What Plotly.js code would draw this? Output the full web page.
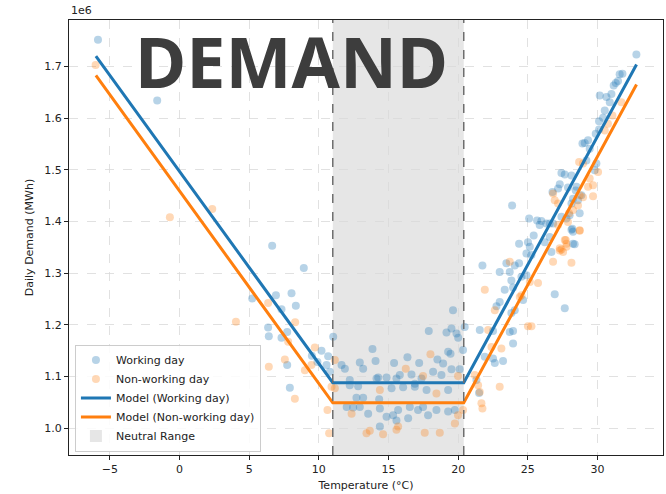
<!DOCTYPE html>
<html>
<head>
<meta charset="utf-8">
<script src="https://cdn.plot.ly/plotly-3.0.1.min.js"></script>
<style>html,body{margin:0;padding:0;background:#fff;}#chart{width:666px;height:494px;}</style>
</head>
<body>
<div id="chart"></div>
<script>
// Working day observations: temperature (°C) and daily demand (MWh)
const tempWork = [-5.85,-1.6,6.65,8.92,5.22,6.92,8.04,7.32,8.35,6.36,7.32,7.73,10.19,7.73,7.92,10.67,10.55,10.79,6.41,9.5,9.9,
  11.03,19.63,17.89,19.16,19.52,19.88,20.0,13.85,19.28,19.45,11.63,11.87,12.94,13.18,14.07,15.4,16.36,17.2,18.51,18.92,19.52,20.11,20.35,15.81,16.65,18.2,18.8,14.14,14.86,15.57,12.22,12.82,15.22,16.05,16.89,17.73,19.28,12.7,13.18,14.33,12.0,12.46,12.94,13.54,14.38,14.86,15.33,15.57,15.69,16.41,16.53,17.12,17.48,17.84,18.44,19.28,19.76,14.38,12.22,14.26,16.89,17.37,
  20.47,21.74,21.55,22.5,23.7,23.94,23.94,21.91,22.5,22.63,23.22,21.31,21.5,22.98,23.7,23.82,24.54,24.9,23.34,23.94,26.93,24.66,22.98,22.75,27.65,24.06,23.82,23.46,24.06,24.37,26.69,25.42,25.01,24.37,25.14,24.9,25.26,23.87,25.09,25.66,25.97,25.85,26.57,26.33,26.81,27.41,27.77,28.0,28.72,28.13,28.24,28.24,28.19,28.36,26.21,26.57,26.77,27.29,27.17,27.88,28.49,28.44,27.41,27.65,28.13,28.84,28.6,28.24,28.13,29.2,29.92,29.8,29.32,29.08,28.92,29.44,29.87,30.11,30.11,30.4,31.0,30.64,30.88,30.52,30.16,31.31,31.47,31.16,31.79,31.59,32.79];
const demandWork = [1.752e6,1.634e6,1.353e6,1.310e6,1.251e6,1.257e6,1.261e6,1.230e6,1.237e6,1.195e6,1.175e6,1.186e6,1.150e6,1.122e6,1.078e6,1.139e6,1.122e6,1.109e6,1.178e6,1.140e6,1.128e6,
  1.177e6,1.228e6,1.188e6,1.185e6,1.193e6,1.183e6,1.175e6,1.153e6,1.148e6,1.144e6,1.122e6,1.115e6,1.127e6,1.115e6,1.130e6,1.126e6,1.137e6,1.126e6,1.133e6,1.125e6,1.114e6,1.114e6,1.151e6,1.103e6,1.104e6,1.109e6,1.103e6,1.096e6,1.098e6,1.096e6,1.083e6,1.081e6,1.077e6,1.079e6,1.080e6,1.074e6,1.074e6,1.059e6,1.059e6,1.056e6,1.041e6,1.040e6,1.041e6,1.028e6,1.038e6,1.022e6,1.025e6,1.015e6,1.035e6,1.019e6,1.041e6,1.035e6,1.041e6,1.025e6,1.035e6,1.032e6,1.035e6,1.003e6,1.093e6,1.098e6,1.086e6,1.096e6,
  1.196e6,1.315e6,1.190e6,1.188e6,1.186e6,1.188e6,1.164e6,1.138e6,1.135e6,1.126e6,1.130e6,1.093e6,1.068e6,1.302e6,1.302e6,1.286e6,1.293e6,1.296e6,1.268e6,1.272e6,1.259e6,1.248e6,1.244e6,1.236e6,1.232e6,1.228e6,1.223e6,1.319e6,1.315e6,1.319e6,1.341e6,1.373e6,1.360e6,1.357e6,1.351e6,1.338e6,1.335e6,1.431e6,1.406e6,1.402e6,1.401e6,1.393e6,1.396e6,1.396e6,1.396e6,1.409e6,1.406e6,1.412e6,1.416e6,1.384e6,1.380e6,1.357e6,1.386e6,1.356e6,1.360e6,1.370e6,1.457e6,1.472e6,1.464e6,1.466e6,1.467e6,1.460e6,1.494e6,1.491e6,1.489e6,1.451e6,1.441e6,1.444e6,1.435e6,1.518e6,1.512e6,1.499e6,1.557e6,1.552e6,1.551e6,1.541e6,1.570e6,1.578e6,1.594e6,1.601e6,1.647e6,1.641e6,1.631e6,1.615e6,1.644e6,1.668e6,1.672e6,1.663e6,1.686e6,1.685e6,1.723e6];

// Non-working day observations
const tempNon = [-6.02,-0.69,2.35,6.36,4.05,8.3,7.8,9.71,7.56,6.41,8.28,9.0,9.47,10.62,10.74,10.91,
  11.15,18.01,16.24,17.48,19.99,14.38,18.44,11.15,12.35,19.99,19.76,15.69,13.42,13.66,14.61,15.57,17.6,18.68,
  20.35,21.19,21.43,21.55,21.67,21.74,22.98,23.1,22.39,22.15,25.01,25.26,22.63,24.42,24.54,25.14,25.73,21.91,23.7,27.29,26.81,27.77,28.13,27.41,27.72,28.72,27.65,27.29,27.77,27.53,27.17,27.88,28.72,28.6,28.24,27.96,26.81,26.93,27.17,28.72,28.96,29.68,30.04,29.44,29.68,29.32,28.68,28.96,30.52,30.75,31.07,31.71];
const demandNon = [1.703e6,1.408e6,1.424e6,1.242e6,1.206e6,1.205e6,1.167e6,1.156e6,1.133e6,1.119e6,1.057e6,1.112e6,1.122e6,1.035e6,0.990e6,1.080e6,
  1.132e6,1.143e6,1.115e6,1.101e6,1.101e6,1.074e6,1.067e6,1.077e6,1.028e6,1.025e6,1.009e6,1.003e6,0.990e6,0.995e6,0.988e6,0.997e6,0.991e6,0.991e6,
  1.035e6,1.103e6,1.083e6,1.070e6,1.048e6,1.038e6,1.080e6,1.154e6,1.157e6,1.190e6,1.197e6,1.197e6,1.228e6,1.254e6,1.257e6,1.283e6,1.281e6,1.268e6,1.322e6,1.344e6,1.322e6,1.357e6,1.320e6,1.346e6,1.364e6,1.382e6,1.364e6,1.348e6,1.351e6,1.341e6,1.393e6,1.399e6,1.383e6,1.431e6,1.422e6,1.416e6,1.454e6,1.441e6,1.435e6,1.451e6,1.447e6,1.449e6,1.496e6,1.483e6,1.470e6,1.467e6,1.515e6,1.512e6,1.576e6,1.589e6,1.605e6,1.631e6];

// Piecewise model (breakpoints)
const modelTemp = [-6, 11, 20.4, 32.8];
const modelWork = [1.720e6, 1.088e6, 1.088e6, 1.704e6];
const modelNon = [1.683e6, 1.049e6, 1.049e6, 1.665e6];

// Neutral range
const neutralLow = 11.0;
const neutralHigh = 20.4;

// Tick labels
const xTicks = [-5, 0, 5, 10, 15, 20, 25, 30];
const yTicks = [1.0e6, 1.1e6, 1.2e6, 1.3e6, 1.4e6, 1.5e6, 1.6e6, 1.7e6];
const yTickText = ['1.0', '1.1', '1.2', '1.3', '1.4', '1.5', '1.6', '1.7'];

const BLUE = '#1f77b4', ORANGE = '#ff7f0e';
const FONT = 'DejaVu Sans, sans-serif';

const traces = [
  {x: tempWork, y: demandWork, type: 'scatter', mode: 'markers', name: 'Working day',
   marker: {color: BLUE, size: 8, opacity: 0.32, line: {width: 0}}},
  {x: tempNon, y: demandNon, type: 'scatter', mode: 'markers', name: 'Non-working day',
   marker: {color: ORANGE, size: 8, opacity: 0.3, line: {width: 0}}},
  {x: modelTemp, y: modelWork, type: 'scatter', mode: 'lines', name: 'Model (Working day)',
   line: {color: BLUE, width: 3}},
  {x: modelTemp, y: modelNon, type: 'scatter', mode: 'lines', name: 'Model (Non-working day)',
   line: {color: ORANGE, width: 3}}
];

const layout = {
  width: 666, height: 494,
  margin: {l: 69, r: 3, t: 20, b: 39},
  paper_bgcolor: '#ffffff', plot_bgcolor: '#ffffff',
  font: {family: FONT, size: 11, color: '#222'},
  showlegend: true,
  legend: {x: 0.01, y: 0.008, xanchor: 'left', yanchor: 'bottom',
    bgcolor: 'rgba(255,255,255,0.85)', bordercolor: '#cccccc', borderwidth: 1,
    font: {family: FONT, size: 11, color: '#222'}, tracegroupgap: 0, itemwidth: 30},
  xaxis: {range: [-7.93, 34.7], tickvals: xTicks, ticks: 'outside', ticklen: 4, tickcolor: '#222',
    showline: true, linecolor: '#222', linewidth: 1, mirror: true, zeroline: false,
    showgrid: true, gridcolor: '#d9d9d9', griddash: 'dash', gridwidth: 0.8,
    title: {text: 'Temperature (°C)', font: {family: FONT, size: 11, color: '#222'}, standoff: 6}},
  yaxis: {range: [0.948e6, 1.790e6], tickvals: yTicks, ticktext: yTickText, ticks: 'outside', ticklen: 4, tickcolor: '#222',
    showline: true, linecolor: '#222', linewidth: 1, mirror: true, zeroline: false,
    showgrid: true, gridcolor: '#d9d9d9', griddash: 'dash', gridwidth: 0.8,
    title: {text: 'Daily Demand (MWh)', font: {family: FONT, size: 11, color: '#222'}, standoff: 8}},
  shapes: [
    {type: 'rect', xref: 'x', yref: 'paper', x0: neutralLow, x1: neutralHigh, y0: 0, y1: 1,
     fillcolor: 'rgba(128,128,128,0.2)', line: {width: 0}, layer: 'below',
     showlegend: true, name: 'Neutral Range'},
    {type: 'line', xref: 'x', yref: 'paper', x0: neutralLow, x1: neutralLow, y0: 0, y1: 1,
     line: {color: '#6e6e6e', width: 1.5, dash: 'dash'}},
    {type: 'line', xref: 'x', yref: 'paper', x0: neutralHigh, x1: neutralHigh, y0: 0, y1: 1,
     line: {color: '#6e6e6e', width: 1.5, dash: 'dash'}}
  ],
  annotations: [
    {text: '1e6', xref: 'paper', yref: 'paper', x: 0, y: 1, xanchor: 'left', yanchor: 'bottom',
     showarrow: false, font: {family: FONT, size: 11, color: '#222'}, yshift: 1},
    {text: '<b>DEMAND</b>', xref: 'paper', yref: 'paper', x: 0.375, y: 0.905, xanchor: 'center', yanchor: 'middle',
     showarrow: false, font: {family: 'Noto Sans, sans-serif', size: 70, color: '#3d3d3d'}}
  ]
};

Plotly.newPlot('chart', traces, layout, {displayModeBar: false, staticPlot: true});
</script>
</body>
</html>
